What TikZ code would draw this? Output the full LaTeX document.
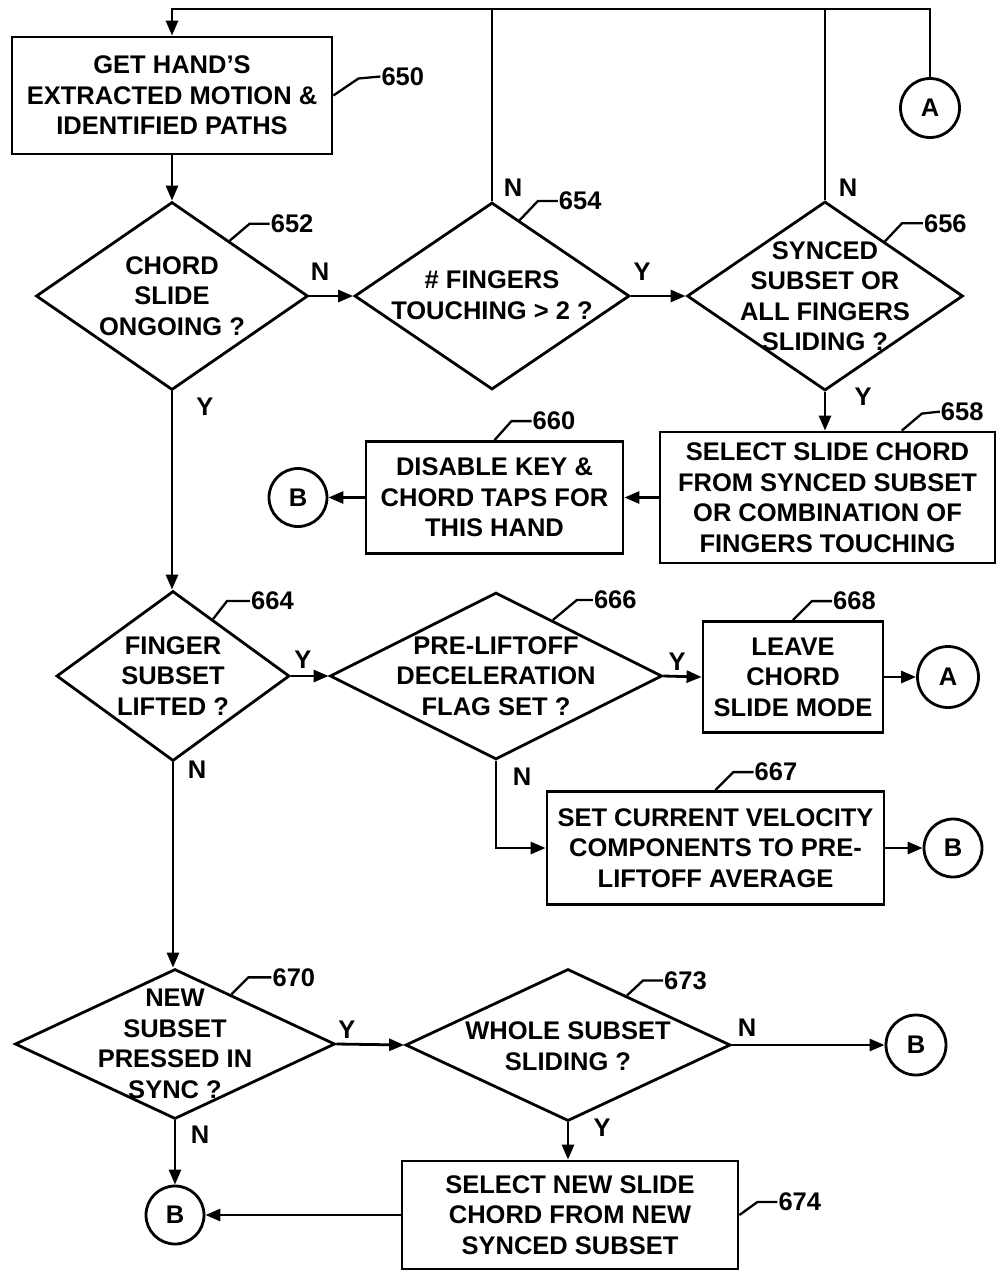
\documentclass[tikz,border=0pt]{standalone}
\usepackage{fontspec}
\setmainfont{Liberation Sans}
\usetikzlibrary{arrows.meta,shapes.geometric,calc}
\begin{document}
\begin{tikzpicture}[x=1pt,y=-1pt,
  every node/.style={font=\fontsize{25.5}{30.5}\selectfont\bfseries},
  ln/.style={line width=2.8pt},
  arr/.style={ln,-{Triangle[length=15pt,width=12pt]}},
  box/.style={draw,ln,rectangle,inner sep=0pt,align=center},
  dia/.style={draw,ln,diamond,inner sep=0pt},
  con/.style={draw,ln,circle,inner sep=0pt,minimum size=59pt},
  txt/.style={align=center,inner sep=0pt},
  num/.style={anchor=west,inner sep=0pt},
  yn/.style={inner sep=0pt},
  lead/.style={line width=2.3pt}]
\useasboundingbox (0,0) rectangle (996,1278);
\coordinate (top) at (0,9);

% nodes
\node[box,minimum width=320pt,minimum height=117pt] (b650) at (172,95.5) {GET HAND'S\\EXTRACTED MOTION \&\\IDENTIFIED PATHS};
\node[dia,minimum width=272pt,minimum height=188pt] (d652) at (172,296) {};
\node[txt] (t652) at (d652) {CHORD\\SLIDE\\ONGOING ?};
\node[dia,minimum width=275pt,minimum height=187pt] (d654) at (492,296) {};
\node[txt] (t654) at (492,295) {\# FINGERS\\TOUCHING > 2 ?};
\node[dia,minimum width=276pt,minimum height=189pt] (d656) at (825,296) {};
\node[txt] (t656) at (d656) {SYNCED\\SUBSET OR\\ALL FINGERS\\SLIDING ?};
\node[con] (cA1) at (930,108) {A};
\node[box,minimum width=335pt,minimum height=131pt] (b658) at (827.5,497.5) {SELECT SLIDE CHORD\\FROM SYNCED SUBSET\\OR COMBINATION OF\\FINGERS TOUCHING};
\node[box,minimum width=257pt,minimum height=112pt] (b660) at (494.5,497.5) {DISABLE KEY \&\\CHORD TAPS FOR\\THIS HAND};
\node[con,minimum size=58pt] (cB1) at (298,497.5) {B};
\node[dia,minimum width=233pt,minimum height=170pt] (d664) at (173,676) {};
\node[txt] (t664) at (d664) {FINGER\\SUBSET\\LIFTED ?};
\node[dia,minimum width=332pt,minimum height=167pt] (d666) at (496,676) {};
\node[txt] (t666) at (d666) {PRE-LIFTOFF\\DECELERATION\\FLAG SET ?};
\node[box,minimum width=180pt,minimum height=111pt] (b668) at (793,677) {LEAVE\\CHORD\\SLIDE MODE};
\node[con,minimum size=61pt] (cA2) at (948,677) {A};
\node[box,minimum width=337pt,minimum height=113pt] (b667) at (715.5,848) {SET CURRENT VELOCITY\\COMPONENTS TO PRE-\\LIFTOFF AVERAGE};
\node[con,minimum size=58pt] (cB2) at (953,848) {B};
\node[dia,minimum width=320pt,minimum height=150pt] (d670) at (175,1044) {};
\node[txt] (t670) at (d670) {NEW\\SUBSET\\PRESSED IN\\SYNC ?};
\node[dia,minimum width=325pt,minimum height=152pt] (d673) at (568,1045) {};
\node[txt] (t673) at (568,1046) {WHOLE SUBSET\\SLIDING ?};
\node[con,minimum size=60pt] (cB3) at (916,1045) {B};
\node[box,minimum width=336pt,minimum height=108pt] (b674) at (570,1215) {SELECT NEW SLIDE\\CHORD FROM NEW\\SYNCED SUBSET};
\node[con,minimum size=58pt] (cB4) at (175,1215) {B};

% connectors
\draw[arr] (cA1.north) |- (b650.north |- top) -- (b650.north);
\draw[ln] (d654.north) -- (d654.north |- top);
\draw[ln] (d656.north) -- (d656.north |- top);
\draw[arr] (b650.south) -- (d652.north);
\draw[arr] (d652.east) -- (d654.west);
\draw[arr] (d654.east) -- (d656.west);
\draw[arr] (d656.south) -- (d656.south |- b658.north);
\draw[arr] (b658.west) -- (b660.east);
\draw[arr] (b660.west) -- (cB1.east);
\draw[arr] (d652.south) -- (d652.south |- d664.north);
\draw[arr] (d664.east) -- (d666.west);
\draw[arr] (d666.east) -- (b668.west);
\draw[arr] (b668.east) -- (cA2.west);
\draw[arr] (d666.south) |- (b667.west);
\draw[arr] (b667.east) -- (cB2.west);
\draw[arr] (d664.south) -- (d664.south |- d670.north);
\draw[arr] (d670.east) -- (d673.west);
\draw[arr] (d673.east) -- (cB3.west);
\draw[arr] (d673.south) -- (d673.south |- b674.north);
\draw[arr] (b674.west) -- (cB4.east);
\draw[arr] (d670.south) -- (cB4.north);

% Y / N labels
\node[yn] (n1) at (320,272) {N};
\node[yn] (y1) at (642,272) {Y};
\node[yn] (n2) at (513,188) {N};
\node[yn] (n3) at (848,188) {N};
\node[yn] (y2) at (863,397) {Y};
\node[yn] (y3) at (205,407) {Y};
\node[yn] (y4) at (303,660) {Y};
\node[yn] (n4) at (197,770) {N};
\node[yn] (y5) at (677,662) {Y};
\node[yn] (n5) at (522,777) {N};
\node[yn] (y6) at (347,1030) {Y};
\node[yn] (n6) at (200,1135) {N};
\node[yn] (n7) at (747,1028) {N};
\node[yn] (y7) at (602,1128) {Y};

% reference numerals with leaders
\draw[lead] (b650.east) -- ++(25,-17) -- ++(22,-2) node[num] (r650) {650};
\draw[lead] ($(d652.north)!0.42!(d652.east)$) -- ++(20,-17) -- ++(20,0) node[num] (r652) {652};
\draw[lead] ($(d654.north)!0.2!(d654.east)$) -- ++(18,-19) -- ++(20,0) node[num] (r654) {654};
\draw[lead] ($(d656.north)!0.43!(d656.east)$) -- ++(17,-18) -- ++(21,0) node[num] (r656) {656};
\draw[lead] ($(b658.north west)!0.72!(b658.north east)$) -- ++(20,-17) -- ++(18,-2) node[num] (r658) {658};
\draw[lead] (b660.north) -- ++(17,-19) -- ++(20,0) node[num] (r660) {660};
\draw[lead] ($(d664.north)!0.34!(d664.east)$) -- ++(14,-18) -- ++(23,0) node[num] (r664) {664};
\draw[lead] ($(d666.north)!0.34!(d666.east)$) -- ++(24,-20) -- ++(16,0) node[num] (r666) {666};
\draw[lead] (b668.north) -- ++(19,-19) -- ++(20,0) node[num] (r668) {668};
\draw[lead] (b667.north) -- ++(18,-18) -- ++(20,0) node[num] (r667) {667};
\draw[lead] ($(d670.north)!0.35!(d670.east)$) -- ++(17,-17) -- ++(23,0) node[num] (r670) {670};
\draw[lead] ($(d673.north)!0.36!(d673.east)$) -- ++(16,-15) -- ++(20,0) node[num] (r673) {673};
\draw[lead] (b674.east) -- ++(18,-13) -- ++(20,0) node[num] (r674) {674};
\end{tikzpicture}
\end{document}
